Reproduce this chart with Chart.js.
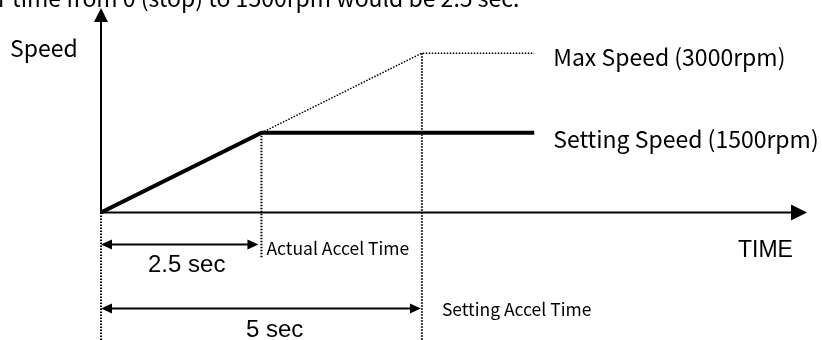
<!DOCTYPE html>
<html>
<head>
<meta charset="utf-8">
<script src="https://cdn.jsdelivr.net/npm/chart.js@4.4.1/dist/chart.umd.min.js"></script>
<style>
  html, body { margin: 0; padding: 0; background: #fff; }
  #wrap { width: 822px; height: 340px; }
</style>
</head>
<body>
<div id="wrap"><canvas id="accelChart"></canvas></div>
<script>
// 設定速度 (1500rpm) のプロファイル: 時間 [sec] / 速度 [rpm]
const settingTimes = [0, 2.5, 6.75];
const settingSpeeds = [0, 1500, 1500];
// 最大速度 (3000rpm) までの仮想ライン
const maxTimes = [2.5, 5, 6.75];
const maxSpeeds = [1500, 3000, 3000];
// 加速時間
const actualAccelTime = 2.5;
const settingAccelTime = 5;
const settingSpeed = 1500;
const maxSpeed = 3000;

// ラベル
const speedLabel = 'Speed';
const timeLabel = 'TIME';
const maxLabel = 'Max Speed (3000rpm)';
const settingLabel = 'Setting Speed (1500rpm)';
const actualLabel = 'Actual Accel Time';
const settingAccelLabel = 'Setting Accel Time';
const actualSecLabel = '2.5 sec';
const settingSecLabel = '5 sec';
const noteText = 'r time from 0 (stop) to 1500rpm would be 2.5 sec.';

const toPoints = (xs, ys) => xs.map((t, i) => ({ x: t, y: ys[i] }));

const gulim = '"Noto Sans CJK KR", "Noto Sans", sans-serif';
const arial = '"Liberation Sans", Arial, sans-serif';

function line(ctx, x1, y1, x2, y2) {
    ctx.beginPath();
    ctx.moveTo(x1, y1);
    ctx.lineTo(x2, y2);
    ctx.stroke();
}

// 矢印の頭 (塗りつぶし三角形)
function head(ctx, tx, ty, dir, len, half) {
    ctx.beginPath();
    if (dir === 'up') {
        ctx.moveTo(tx, ty); ctx.lineTo(tx - half, ty + len); ctx.lineTo(tx + half, ty + len);
    } else if (dir === 'right') {
        ctx.moveTo(tx, ty); ctx.lineTo(tx - len, ty - half); ctx.lineTo(tx - len, ty + half);
    } else {
        ctx.moveTo(tx, ty); ctx.lineTo(tx + len, ty - half); ctx.lineTo(tx + len, ty + half);
    }
    ctx.closePath();
    ctx.fill();
}

const diagramPlugin = {
    id: 'diagram',
    beforeDatasetsDraw(chart) {
        const { ctx, chartArea, scales: { x, y } } = chart;
        const x0 = x.getPixelForValue(0);
        const y0 = y.getPixelForValue(0);
        const xa = x.getPixelForValue(actualAccelTime);
        const xs = x.getPixelForValue(settingAccelTime);
        ctx.save();
        ctx.strokeStyle = '#000';
        ctx.lineWidth = 2;
        ctx.setLineDash([1.5, 1.5]);
        // 補助線 (点線)
        line(ctx, x0, y0, x0, chartArea.bottom);
        line(ctx, xa, y.getPixelForValue(settingSpeed), xa, y0 + 45);
        line(ctx, xs, y.getPixelForValue(maxSpeed), xs, chartArea.bottom);
        ctx.setLineDash([]);
        // 軸
        ctx.lineWidth = 2;
        line(ctx, x0, y0, x0, chartArea.top + 12);
        line(ctx, x0 - 1, y0, chartArea.right - 14, y0);
        ctx.fillStyle = '#000';
        head(ctx, x0, chartArea.top, 'up', 14, 7);
        head(ctx, chartArea.right, y0, 'right', 16, 8);
        ctx.restore();
    },
    afterDatasetsDraw(chart) {
        const { ctx, chartArea, scales: { x, y } } = chart;
        const x0 = x.getPixelForValue(0);
        const y0 = y.getPixelForValue(0);
        const xa = x.getPixelForValue(actualAccelTime);
        const xs = x.getPixelForValue(settingAccelTime);
        const xEnd = x.getPixelForValue(settingTimes[settingTimes.length - 1]);
        ctx.save();
        ctx.strokeStyle = '#000';
        ctx.fillStyle = '#000';
        ctx.lineWidth = 2;
        // 寸法矢印
        const ya = y0 + 32;
        const ys = y0 + 96;
        line(ctx, x0 + 8, ya, xa - 8, ya);
        head(ctx, x0, ya, 'left', 11, 5);
        head(ctx, xa - 3, ya, 'right', 11, 5);
        line(ctx, x0 + 8, ys, xs - 8, ys);
        head(ctx, x0, ys, 'left', 11, 5);
        head(ctx, xs - 1, ys, 'right', 11, 5);

        // テキスト
        ctx.textBaseline = 'alphabetic';
        ctx.textAlign = 'left';
        ctx.fillStyle = '#000';
        ctx.font = '23px ' + gulim;
        ctx.fillText(noteText, -2, 7);
        ctx.fillText(speedLabel, 10, 57);
        ctx.fillText(maxLabel, xEnd + 19, y.getPixelForValue(maxSpeed) + 13);
        ctx.fillText(settingLabel, xEnd + 19, y.getPixelForValue(settingSpeed) + 15);
        ctx.font = '17.5px ' + gulim;
        ctx.fillText(actualLabel, xa + 5, ya + 10);
        ctx.fillText(settingAccelLabel, xs + 20, ys + 7);
        ctx.font = '24px ' + arial;
        ctx.fillText(actualSecLabel, 148, ya + 27);
        ctx.fillText(settingSecLabel, 246, ys + 28);
        ctx.font = '23px ' + arial;
        ctx.fillText(timeLabel, chartArea.right - 69, y0 + 44);
        ctx.restore();
    }
};

const config = {
    type: 'line',
    data: {
        datasets: [{
            label: 'Setting Speed',
            data: toPoints(settingTimes, settingSpeeds),
            borderColor: '#000',
            borderWidth: 4,
            pointRadius: 0,
            tension: 0
        }, {
            label: 'Max Speed',
            data: toPoints(maxTimes, maxSpeeds),
            borderColor: '#000',
            borderWidth: 1.5,
            borderDash: [1.5, 1.5],
            pointRadius: 0,
            tension: 0
        }]
    },
    options: {
        responsive: true,
        maintainAspectRatio: false,
        animation: false,
        layout: { padding: { left: 101, right: 15, top: 8, bottom: 0 } },
        plugins: {
            legend: { display: false },
            tooltip: { enabled: false }
        },
        scales: {
            x: { type: 'linear', min: 0, max: 11, display: false },
            y: { type: 'linear', min: -2400, max: 3850, display: false }
        }
    },
    plugins: [diagramPlugin]
};

window.addEventListener('load', () => {
    const ctx = document.getElementById('accelChart').getContext('2d');
    new Chart(ctx, config);
});
</script>
</body>
</html>
